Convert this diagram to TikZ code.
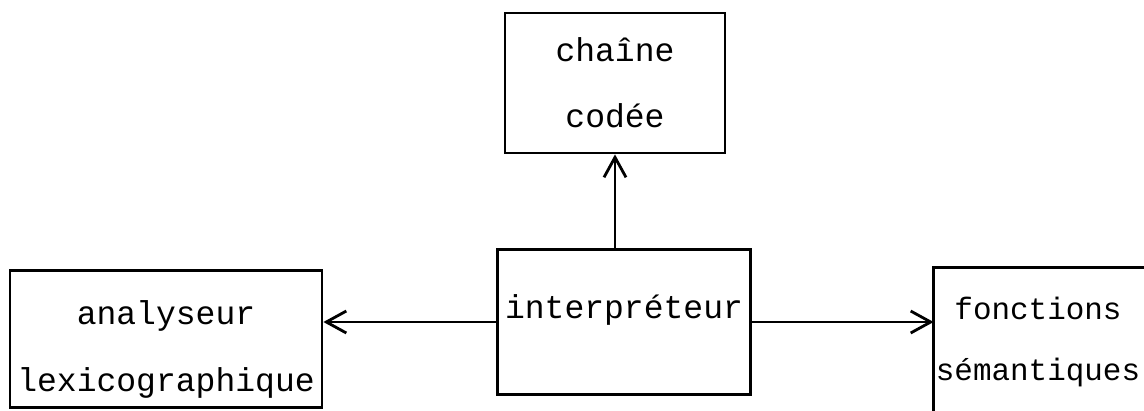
\documentclass[tikz,border=0pt]{standalone}
\usepackage{fontspec}
\setmainfont{Liberation Mono}
\usepackage{tikz}
\usetikzlibrary{calc,positioning,arrows.meta}

\begin{document}
\begin{tikzpicture}[x=0.025cm, y=-0.025cm, line width=2pt,
    >={Straight Barb[length=5mm,width=5.5mm]},
    bloc/.style={draw, align=center, inner sep=0pt,
        font=\fontsize{23.5pt}{47pt}\selectfont}]
    % the page, cut at the right and at the bottom
    \path[use as bounding box, clip] (0,0) rectangle (1144,410);

    % the boxes (the rules only push the text up or down in its box)
    \node[bloc, minimum width=220*0.025cm, minimum height=140*0.025cm] (chaine) at (615,83) {chaîne\\codée};
    \node[bloc, minimum width=253*0.025cm, minimum height=145*0.025cm] (interp) at (624,322) {interpréteur\rule[-0.77cm]{0pt}{0.77cm}};
    \node[bloc, minimum width=312*0.025cm, minimum height=137*0.025cm] (lex) at (166,339) {\rule{0pt}{1.12cm}analyseur\\lexicographique};

    % this one runs off the page, so only its left and top sides show
    \node[bloc, draw=none, font=\fontsize{22pt}{44pt}\selectfont,
        minimum width=206*0.025cm, minimum height=146*0.025cm] (fonc) at (1038,342) {fonctions\\sémantiques};
    \draw (fonc.south west) -- (fonc.north west) -- ++(250,0);

    % draw the arrows
    \draw[->] (interp.north -| chaine) -- (chaine.south);
    \draw[->] (interp.west) -- (interp.west -| lex.east);
    \draw[->] (interp.east) -- (interp.east -| fonc.west);

\end{tikzpicture}
\end{document}
